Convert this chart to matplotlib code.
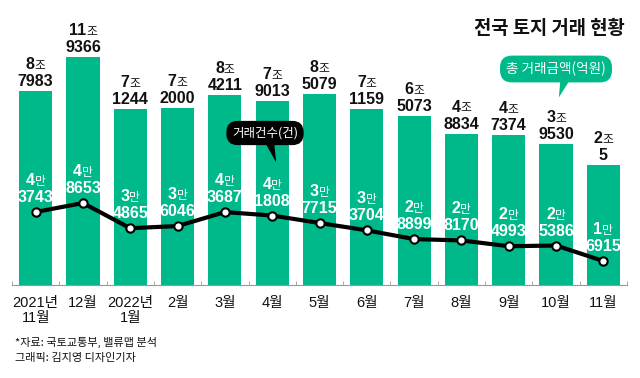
import numpy as np
import matplotlib.pyplot as plt

# data: monthly land transactions (amount in 억원, count in 건)
months = ['2021년\n11월', '12월', '2022년\n1월', '2월', '3월', '4월', '5월',
          '6월', '7월', '8월', '9월', '10월', '11월']
amount = [87983, 119366, 71244, 72000, 84211, 79013, 85079,
          71159, 65073, 48834, 47374, 39530, 20005]
count = [43743, 48653, 34865, 36046, 43687, 41808, 37715,
         33704, 28899, 28170, 24993, 25386, 16915]

GREEN = '#00B98B'
NUM = ['Liberation Sans', 'Noto Sans CJK KR', 'DejaVu Sans']
KR = ['Noto Sans CJK KR', 'DejaVu Sans']

W, H = 640, 378
def px(x, y):
    # top-left pixel -> figure fraction
    return (x / W, 1 - y / H)

BASE = -90400  # bars start below zero (truncated look of the original)

fig = plt.figure(figsize=(6.4, 3.78), dpi=100)
ax = fig.add_axes([12 / W, 93 / H, 615 / W, 285 / H])
x = np.arange(len(months))

ax.bar(x, np.array(amount) - BASE, bottom=BASE, width=0.7, color=GREEN, zorder=2)
ax.set_xlim(-0.5, len(months) - 0.5)
ax.set_ylim(BASE, 171800)
for s in ['top', 'left', 'right']:
    ax.spines[s].set_visible(False)
ax.spines['bottom'].set_color('#999999')
ax.set_yticks([])
ax.set_xticks(x)
ax.set_xticklabels(months, fontfamily=NUM, fontsize=10.5, linespacing=1.05, color='#111111')
ax.tick_params(axis='x', which='major', length=0, pad=8)
ax.set_xticks(np.arange(-0.5, len(months)), minor=True)
ax.tick_params(axis='x', which='minor', direction='in', length=3, color='#999999')

# line on second axis
ax2 = ax.twinx()
ax2.set_ylim(3765, 159844)
ax2.plot(x, count, color='black', lw=3, marker='o', ms=6, mfc='white',
         mec='black', mew=1.5, zorder=3)
for s in ax2.spines.values():
    s.set_visible(False)
ax2.set_yticks([])

# labels: "8조" over "7983", "4만" over "3743"
pairs = []
for i in range(len(x)):
    a_big, a_rest = divmod(amount[i], 10000)
    ax.annotate(str(a_rest), xy=(i, amount[i]), xytext=(0, 5), textcoords='offset pixels',
                ha='center', va='baseline', fontsize=11.5, weight='bold', family=NUM,
                color='#111111')
    t1 = ax.annotate(str(a_big), xy=(i, amount[i]), xytext=(0, 22), textcoords='offset pixels',
                     ha='right', va='baseline', fontsize=11.5, weight='bold', family=NUM,
                     color='#111111')
    t2 = ax.annotate('조', xy=(i, amount[i]), xytext=(0, 22), textcoords='offset pixels',
                     ha='left', va='baseline', fontsize=8.5, family=KR, color='#111111')
    pairs.append((t1, t2, 22))

    c_big, c_rest = divmod(count[i], 10000)
    ax2.annotate(str(c_rest), xy=(i, count[i]), xytext=(0, 10), textcoords='offset pixels',
                 ha='center', va='baseline', fontsize=11.5, weight='bold', family=NUM,
                 color='white', zorder=4)
    t1 = ax2.annotate(str(c_big), xy=(i, count[i]), xytext=(0, 27), textcoords='offset pixels',
                      ha='right', va='baseline', fontsize=11.5, weight='bold', family=NUM,
                      color='white', zorder=4)
    t2 = ax2.annotate('만', xy=(i, count[i]), xytext=(0, 27), textcoords='offset pixels',
                      ha='left', va='baseline', fontsize=8.5, family=KR, color='white', zorder=4)
    pairs.append((t1, t2, 27))

# center the digit + unit pairs
fig.canvas.draw()
r = fig.canvas.get_renderer()
for t1, t2, dy in pairs:
    w1 = t1.get_window_extent(r).width
    w2 = t2.get_window_extent(r).width
    split = (w1 - w2) / 2
    t1.xyann = (split, dy)
    t2.xyann = (split, dy)

# callouts
def callout(text, center, tip, fc, relx, size):
    ax2.annotate(text, xy=px(*tip), xycoords='figure fraction',
                 xytext=px(*center), textcoords='figure fraction',
                 ha='center', va='center', color='white', fontsize=size, family=KR,
                 zorder=6,
                 bbox=dict(boxstyle='round,pad=0.45,rounding_size=0.9', fc=fc, ec='none'),
                 arrowprops=dict(arrowstyle='wedge,tail_width=0.7,shrink_factor=0.5',
                                 fc=fc, ec='none', relpos=(relx, 0.0), patchA=None))

callout('총 거래금액(억원)', (556, 69), (558, 100), GREEN, 0.6, 9.8)
callout('거래건수(건)', (265, 133), (277, 165), 'black', 0.56, 9)

fig.text(*px(625, 28), '전국 토지 거래 현황', ha='right', va='center', fontsize=13.5,
         weight='bold', family=KR, color='#111111')
fig.text(*px(15, 342), '*자료: 국토교통부, 밸류맵 분석', ha='left', va='center',
         fontsize=8, family=KR, color='#111111')
fig.text(*px(15, 358), '그래픽: 김지영 디자인기자', ha='left', va='center',
         fontsize=8, family=KR, color='#111111')

fig.savefig('out.png', dpi=100)
